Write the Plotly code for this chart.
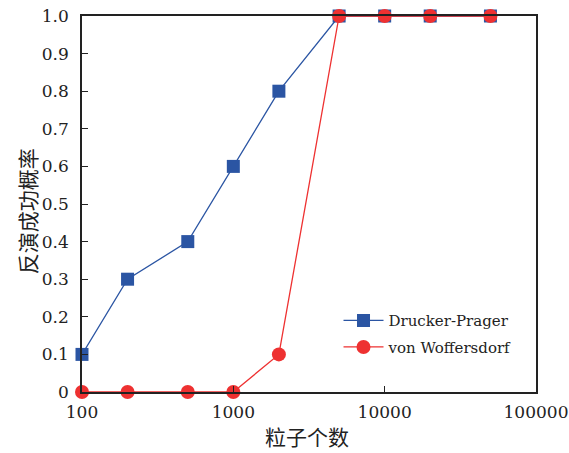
import plotly.graph_objects as go

particles = [100, 200, 500, 1000, 2000, 5000, 10000, 20000, 50000]
dp_prob = [0.1, 0.3, 0.4, 0.6, 0.8, 1.0, 1.0, 1.0, 1.0]
vw_prob = [0.0, 0.0, 0.0, 0.0, 0.1, 1.0, 1.0, 1.0, 1.0]
y_tickvals = [0, 0.1, 0.2, 0.3, 0.4, 0.5, 0.6, 0.7, 0.8, 0.9, 1.0]
y_ticktext = ["0", "0.1", "0.2", "0.3", "0.4", "0.5", "0.6", "0.7", "0.8", "0.9", "1.0"]
x_tickvals = [100, 1000, 10000, 100000]
x_ticktext = ["100", "1000", "10000", "100000"]
x_title = "粒子个数"
y_title = "反演成功概率"

BLUE = "#2b55a3"
RED = "#ee3131"
SERIF = "DejaVu Serif"
CJK = "Noto Sans CJK SC"

fig = go.Figure()
fig.add_trace(go.Scatter(
    x=particles, y=dp_prob, name="Drucker-Prager", mode="lines+markers",
    legendgroup="dp",
    line=dict(color=BLUE, width=1.3),
    marker=dict(symbol="square", size=13, color=BLUE),
    cliponaxis=False,
))
fig.add_trace(go.Scatter(
    x=particles, y=vw_prob, name="von Woffersdorf", mode="lines+markers",
    legendgroup="vw",
    line=dict(color=RED, width=1.3),
    marker=dict(symbol="circle", size=14, color=RED),
    cliponaxis=False,
))

fig.update_layout(
    width=569, height=453,
    margin=dict(l=82, r=33, t=16, b=61, autoexpand=False),
    plot_bgcolor="white", paper_bgcolor="white",
    font=dict(family=SERIF, size=17, color="#222222"),
    showlegend=True,
    legend=dict(
        x=0.565, y=0.155, xanchor="left", yanchor="middle",
        bgcolor="rgba(0,0,0,0)", font=dict(family=SERIF, size=15),
        itemwidth=40, tracegroupgap=4,
    ),
    xaxis=dict(
        type="log", range=[2, 5],
        tickvals=x_tickvals, ticktext=x_ticktext,
        ticks="inside", ticklen=6, tickcolor="#222222",
        showline=True, linecolor="#222222", linewidth=1.5, mirror=True,
        showgrid=False, zeroline=False, automargin=False,
        tickfont=dict(family=SERIF, size=17),
        ticklabelstandoff=4,
    ),
    yaxis=dict(
        range=[0, 1.0],
        tickvals=y_tickvals, ticktext=y_ticktext,
        ticks="inside", ticklen=6, tickcolor="#222222",
        showline=True, linecolor="#222222", linewidth=1.5, mirror=True,
        showgrid=False, zeroline=False, automargin=False,
        tickfont=dict(family=SERIF, size=17),
        ticklabelstandoff=8,
    ),
    annotations=[
        dict(text=x_title, xref="paper", yref="paper", x=0.496, y=-0.118,
             xanchor="center", yanchor="middle", showarrow=False,
             font=dict(family=CJK, size=21, color="#222222")),
        dict(text=y_title, xref="paper", yref="paper", x=-0.121, y=0.481,
             xanchor="center", yanchor="middle", showarrow=False, textangle=-90,
             font=dict(family=CJK, size=21, color="#222222")),
    ],
)

fig.write_html("out.html")
